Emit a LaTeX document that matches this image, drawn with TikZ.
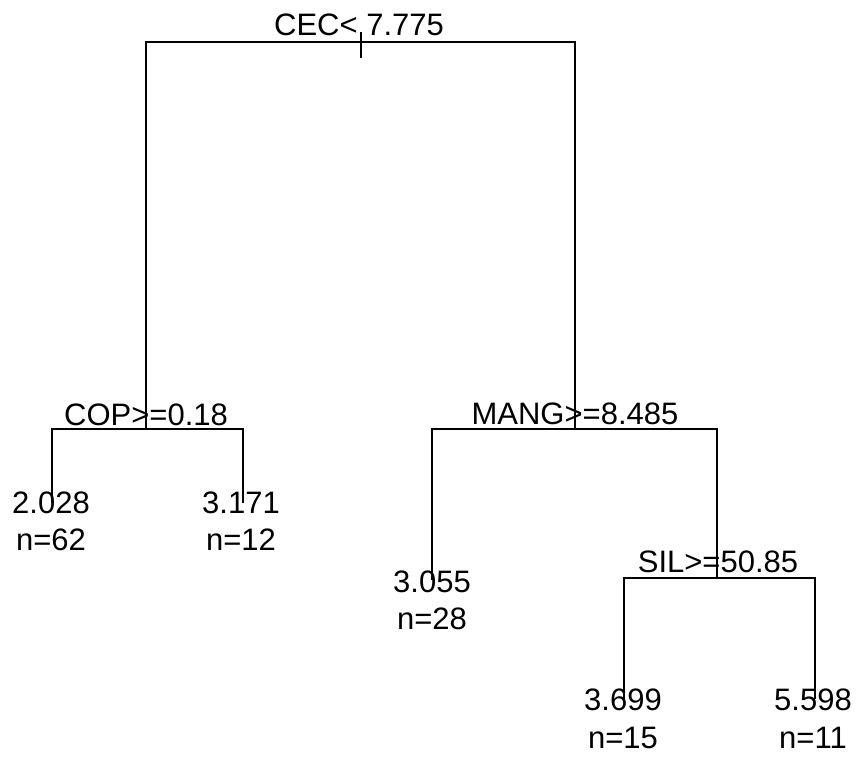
\documentclass[tikz,border=0pt]{standalone}
\usepackage{fontspec}
\setmainfont{Liberation Sans}
\begin{document}
\begin{tikzpicture}[x=1pt,y=-1pt,
  edge/.style={line width=2.2pt,line cap=rect},
  lbl/.style={anchor=base,inner sep=0pt,font=\fontsize{31}{37}\selectfont}]
\useasboundingbox[fill=white] (0,0) rectangle (859,756);
% junction coordinates
\coordinate (rootL) at (146,42);
\coordinate (rootR) at (575,42);
\coordinate (copC) at (146,429);
\coordinate (copL) at (52,429);
\coordinate (copR) at (243,429);
\coordinate (leafA) at (52,502);
\coordinate (leafB) at (243,502);
\coordinate (mangC) at (575,429);
\coordinate (mangL) at (432,429);
\coordinate (mangR) at (717,429);
\coordinate (leafC) at (432,579);
\coordinate (silC) at (717,578);
\coordinate (silL) at (624,578);
\coordinate (silR) at (815,578);
\coordinate (leafD) at (624,698);
\coordinate (leafE) at (815,698);
\coordinate (tickT) at (361,33);
\coordinate (tickB) at (361,57);
% edges
\draw[edge] (copC) -- (rootL) -- (rootR) -- (mangC);
\draw[edge] (tickT) -- (tickB);
\draw[edge] (leafA) -- (copL) -- (copR) -- (leafB);
\draw[edge] (leafC) -- (mangL) -- (mangR) -- (silC);
\draw[edge] (leafD) -- (silL) -- (silR) -- (leafE);
% split labels
\node[lbl] (cec) at (359,35) {CEC< 7.775};
\node[lbl] (cop) at (146,425) {COP>=0.18};
\node[lbl] (mang) at (575,424) {MANG>=8.485};
\node[lbl] (sil) at (718,572) {SIL>=50.85};
% leaf labels
\node[lbl] (v1) at (51,513) {2.028};
\node[lbl] (n1) at (51,550) {n=62};
\node[lbl] (v2) at (241,513) {3.171};
\node[lbl] (n2) at (241,550) {n=12};
\node[lbl] (v3) at (432,592) {3.055};
\node[lbl] (n3) at (432,629) {n=28};
\node[lbl] (v4) at (623,710) {3.699};
\node[lbl] (n4) at (623,748) {n=15};
\node[lbl] (v5) at (813,710) {5.598};
\node[lbl] (n5) at (813,748) {n=11};
\end{tikzpicture}
\end{document}
